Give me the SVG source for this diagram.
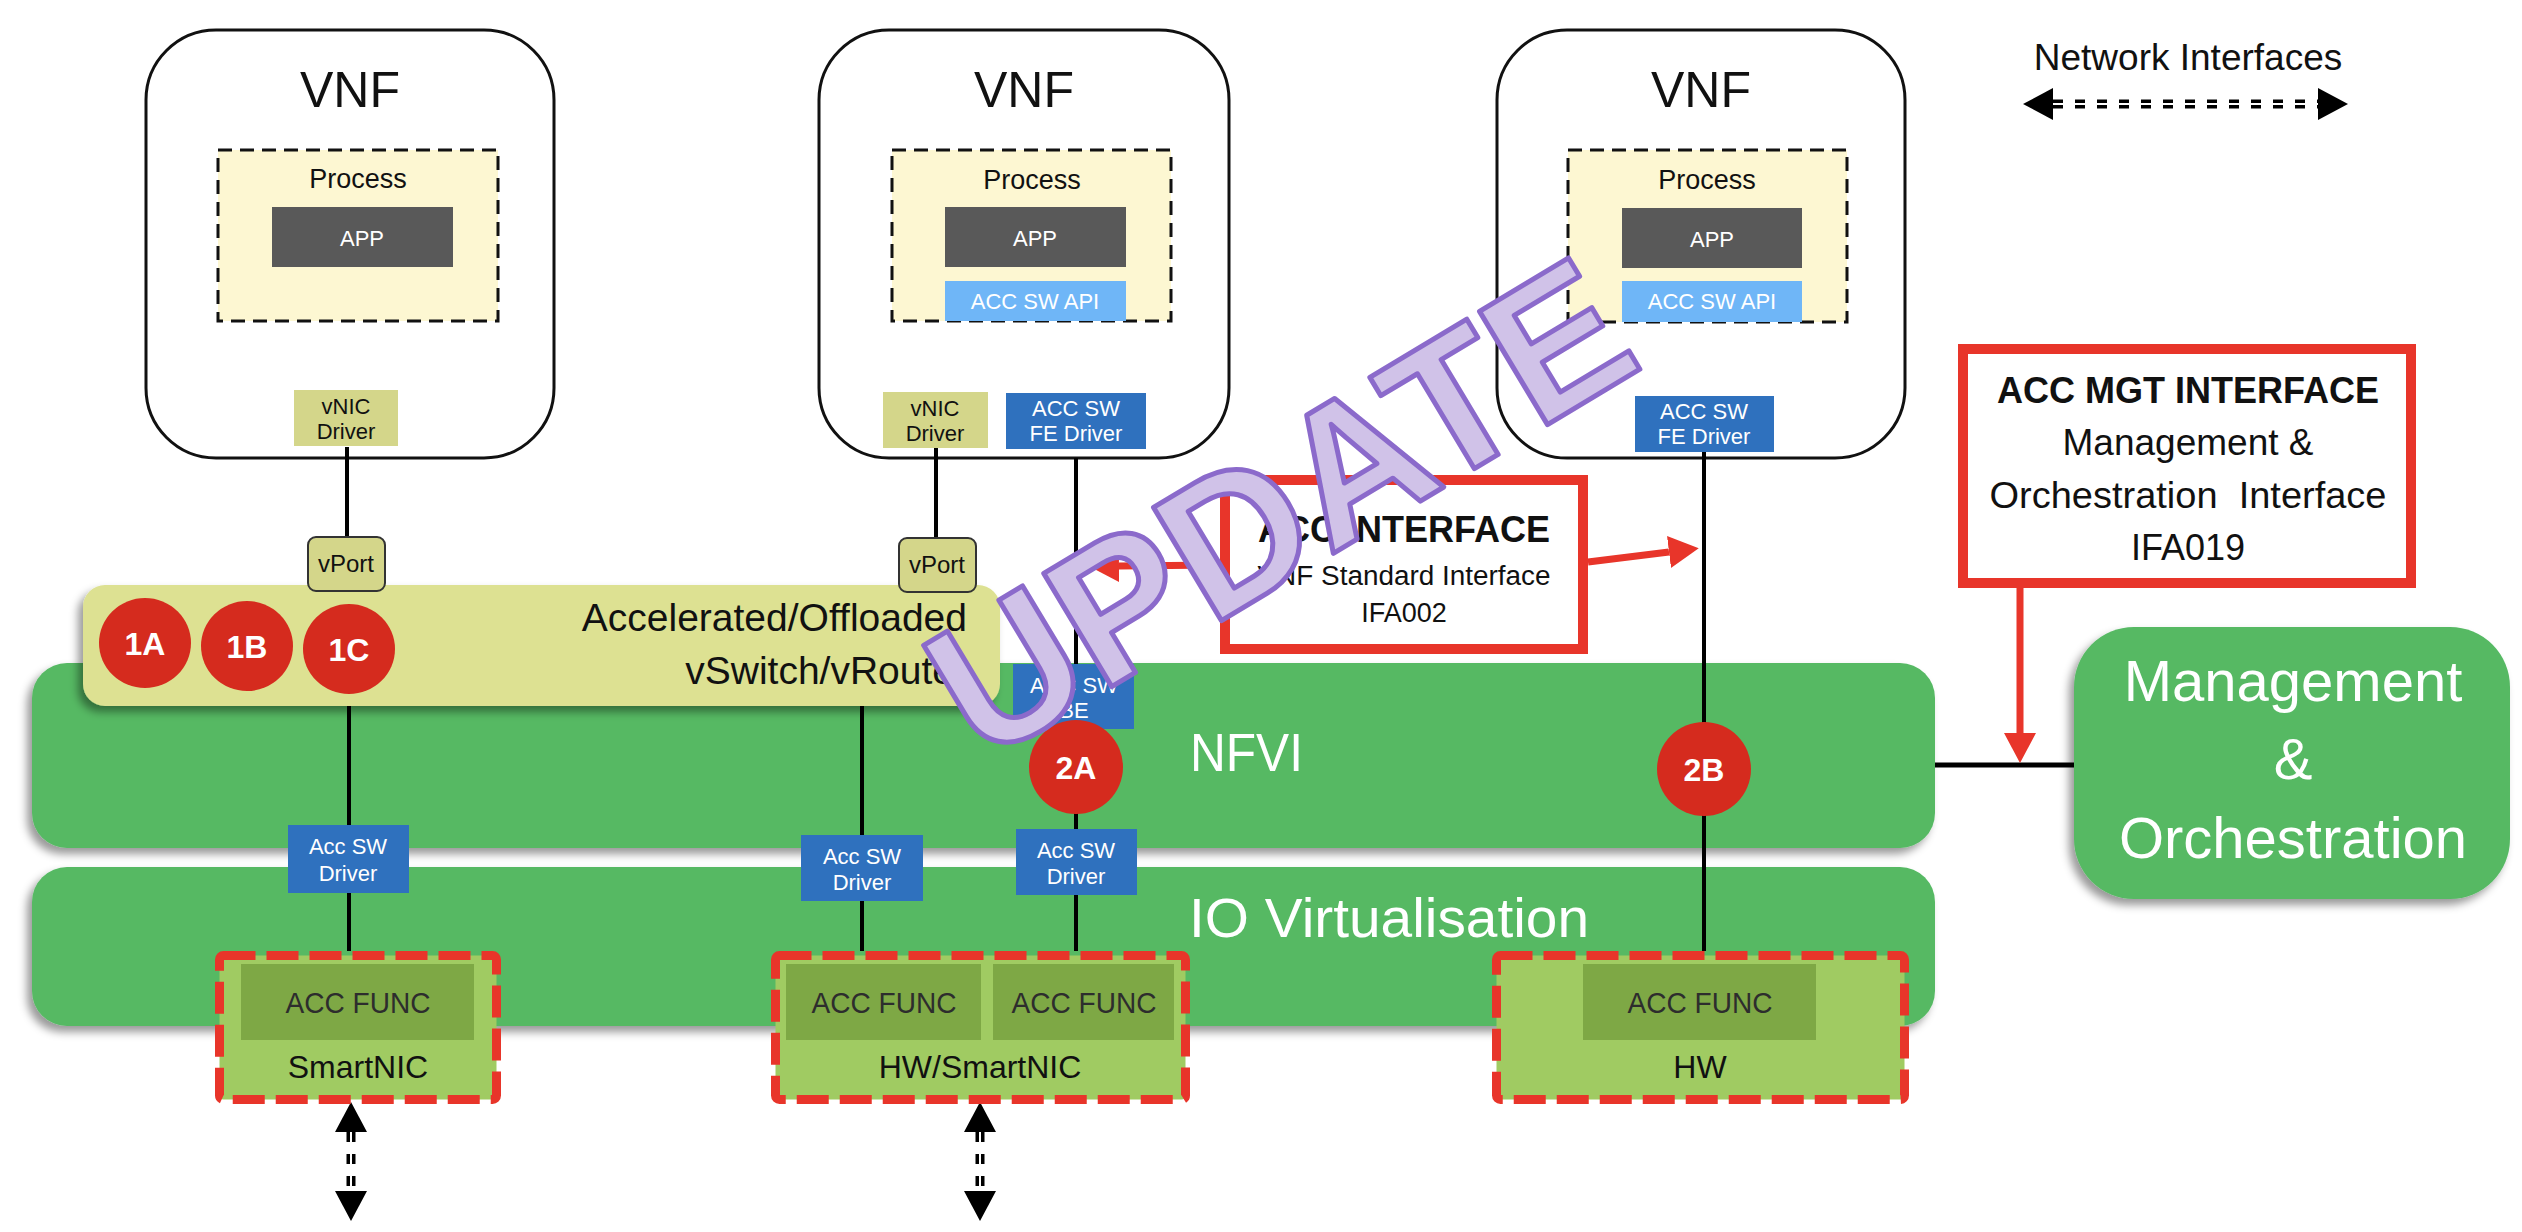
<svg xmlns="http://www.w3.org/2000/svg" width="2522" height="1232" viewBox="0 0 2522 1232">
<defs>
<style>
text{font-family:"Liberation Sans",Arial,sans-serif}
.c{text-anchor:middle}
.e{text-anchor:end}
.w{fill:#fff}
.k{fill:#111}
.vnf{fill:#fff;stroke:#111;stroke-width:3}
.proc{fill:#fdf7d2;stroke:#111;stroke-width:3;stroke-dasharray:14 8}
.app{fill:#595959}
.api{fill:#6fb6f7}
.blue{fill:#2f71be}
.olive{fill:#d4d68a}
.vport{fill:#d4d68a;stroke:#333;stroke-width:2}
.bar{fill:#56b964}
.ysw{fill:#dde192}
.dot{fill:#d52b1e}
.hw{fill:#a0cb62;stroke:#e8352a;stroke-width:9;stroke-dasharray:32 11}
.func{fill:#7ea845}
.ln{stroke:#000;stroke-width:4;fill:none}
.rl{stroke:#e8352a;stroke-width:7;fill:none}
.ibox{fill:#fff;stroke:#e8352a;stroke-width:10}
.net{stroke:#000;stroke-width:9;stroke-dasharray:10 12;fill:none}
.netc{stroke:#fff;stroke-width:2}
.s22{font-size:22px}
.s24{font-size:24px}
.num{font-size:32px;font-weight:bold;fill:#fff;text-anchor:middle}
.func-t{font-size:30px;fill:#2d2d2d;text-anchor:middle}
.hw-t{font-size:32px;fill:#111;text-anchor:middle}
.vnf-t{font-size:50px;fill:#111;text-anchor:middle}
.proc-t{font-size:27px;fill:#111;text-anchor:middle}
.big{font-size:58px;fill:#fff;text-anchor:middle}
</style>
<filter id="sh" x="-5%" y="-10%" width="110%" height="130%">
<feDropShadow dx="-5" dy="6" stdDeviation="4" flood-color="#000" flood-opacity="0.4"/>
</filter>
<marker id="rh" viewBox="0 0 30 32" refX="0" refY="16" markerWidth="30" markerHeight="32" markerUnits="userSpaceOnUse" orient="auto">
<path d="M0,0 L30,16 L0,32 z" fill="#e8352a"/>
</marker>
<marker id="bh" viewBox="0 0 30 32" refX="0" refY="16" markerWidth="30" markerHeight="32" markerUnits="userSpaceOnUse" orient="auto-start-reverse">
<path d="M0,0 L30,16 L0,32 z" fill="#000"/>
</marker>
</defs>

<rect width="2522" height="1232" fill="#fff"/>

<!-- Layers -->
<g id="nfvi">
<rect class="bar" x="32" y="663" width="1903" height="185" rx="35" filter="url(#sh)"/>
<text x="1190" y="771" font-size="54" class="w" textLength="113" lengthAdjust="spacingAndGlyphs">NFVI</text>
</g>
<g id="io-virtualisation">
<rect class="bar" x="32" y="867" width="1903" height="159" rx="35" filter="url(#sh)"/>
<text x="1189" y="937" font-size="56" class="w" textLength="400" lengthAdjust="spacingAndGlyphs">IO Virtualisation</text>
</g>
<g id="vswitch">
<rect class="ysw" x="83" y="585" width="917" height="121" rx="22" filter="url(#sh)"/>
<text x="967" y="631" font-size="39" class="e k">Accelerated/Offloaded</text>
<text x="967" y="684" font-size="39" class="e k">vSwitch/vRouter</text>
</g>
<g id="mano">
<rect class="bar" x="2074" y="627" width="436" height="272" rx="60" filter="url(#sh)"/>
<text x="2293" y="701" class="big">Management</text>
<text x="2293" y="779" class="big">&amp;</text>
<text x="2293" y="858" class="big">Orchestration</text>
</g>

<!-- VNFs -->
<g id="vnf1">
<rect class="vnf" x="146" y="30" width="408" height="428" rx="70"/>
<text x="350" y="107" class="vnf-t">VNF</text>
<rect class="proc" x="218" y="150" width="280" height="171"/>
<text x="358" y="188" class="proc-t">Process</text>
<rect class="app" x="272" y="207" width="181" height="60"/>
<text x="362" y="246" class="c w s22">APP</text>
</g>
<g id="vnf2">
<rect class="vnf" x="819" y="30" width="410" height="428" rx="70"/>
<text x="1024" y="107" class="vnf-t">VNF</text>
<rect class="proc" x="892" y="150" width="279" height="171"/>
<text x="1032" y="189" class="proc-t">Process</text>
<rect class="app" x="945" y="207" width="181" height="60"/>
<text x="1035" y="246" class="c w s22">APP</text>
<rect class="api" x="945" y="281" width="181" height="40"/>
<text x="1035" y="309" class="c w s22">ACC SW API</text>
</g>
<g id="vnf3">
<rect class="vnf" x="1497" y="30" width="408" height="428" rx="70"/>
<text x="1701" y="107" class="vnf-t">VNF</text>
<rect class="proc" x="1568" y="150" width="279" height="172"/>
<text x="1707" y="189" class="proc-t">Process</text>
<rect class="app" x="1622" y="208" width="180" height="60"/>
<text x="1712" y="247" class="c w s22">APP</text>
<rect class="api" x="1622" y="281" width="180" height="41"/>
<text x="1712" y="309" class="c w s22">ACC SW API</text>
</g>

<!-- Connectors -->
<g id="connectors">
<line class="ln" x1="347" y1="447" x2="347" y2="537"/>
<line class="ln" x1="936" y1="447" x2="936" y2="538"/>
<line class="ln" x1="1076" y1="458" x2="1076" y2="951"/>
<line class="ln" x1="1704" y1="452" x2="1704" y2="951"/>
<line class="ln" x1="349" y1="706" x2="349" y2="951"/>
<line class="ln" x1="862" y1="706" x2="862" y2="951"/>
<line x1="1935" y1="765" x2="2074" y2="765" stroke="#000" stroke-width="5"/>
<line class="rl" x1="1220" y1="565" x2="1119" y2="566" marker-end="url(#rh)"/>
<line class="rl" x1="1588" y1="562" x2="1669" y2="552" marker-end="url(#rh)"/>
<line class="rl" x1="2020" y1="588" x2="2020" y2="733" marker-end="url(#rh)"/>
<line class="net" x1="2053" y1="104" x2="2318" y2="104" marker-start="url(#bh)" marker-end="url(#bh)"/>
<line class="netc" x1="2053" y1="104" x2="2318" y2="104"/>
<line class="net" x1="351" y1="1132" x2="351" y2="1191" marker-start="url(#bh)" marker-end="url(#bh)"/>
<line class="netc" x1="351" y1="1132" x2="351" y2="1191"/>
<line class="net" x1="980" y1="1132" x2="980" y2="1191" marker-start="url(#bh)" marker-end="url(#bh)"/>
<line class="netc" x1="980" y1="1132" x2="980" y2="1191"/>
</g>

<!-- Drivers and ports -->
<g id="vnic1">
<rect class="olive" x="294" y="390" width="104" height="56"/>
<text x="346" y="414" class="c k s22">vNIC</text>
<text x="346" y="439" class="c k s22">Driver</text>
</g>
<g id="vnic2">
<rect class="olive" x="883" y="392" width="105" height="56"/>
<text x="935" y="416" class="c k s22">vNIC</text>
<text x="935" y="441" class="c k s22">Driver</text>
</g>
<g id="fe-driver2">
<rect class="blue" x="1006" y="393" width="140" height="56"/>
<text x="1076" y="416" class="c w s22">ACC SW</text>
<text x="1076" y="441" class="c w s22">FE Driver</text>
</g>
<g id="fe-driver3">
<rect class="blue" x="1635" y="396" width="139" height="56"/>
<text x="1704" y="419" class="c w s22">ACC SW</text>
<text x="1704" y="444" class="c w s22">FE Driver</text>
</g>
<g id="vport1">
<rect class="vport" x="308" y="537" width="77" height="54" rx="8"/>
<text x="346" y="572" class="c k s24">vPort</text>
</g>
<g id="vport2">
<rect class="vport" x="899" y="538" width="77" height="54" rx="8"/>
<text x="937" y="573" class="c k s24">vPort</text>
</g>
<g id="be-driver">
<rect class="blue" x="1013" y="664" width="121" height="65"/>
<text x="1074" y="693" class="c w s22">ACC SW</text>
<text x="1074" y="718" class="c w s22">BE</text>
</g>
<g id="acc-driver1">
<rect class="blue" x="288" y="825" width="121" height="68"/>
<text x="348" y="854" class="c w s22">Acc SW</text>
<text x="348" y="881" class="c w s22">Driver</text>
</g>
<g id="acc-driver2">
<rect class="blue" x="801" y="835" width="122" height="66"/>
<text x="862" y="864" class="c w s22">Acc SW</text>
<text x="862" y="890" class="c w s22">Driver</text>
</g>
<g id="acc-driver3">
<rect class="blue" x="1016" y="829" width="121" height="66"/>
<text x="1076" y="858" class="c w s22">Acc SW</text>
<text x="1076" y="884" class="c w s22">Driver</text>
</g>

<!-- Numbered markers -->
<g id="m1a"><ellipse class="dot" cx="145" cy="643" rx="46" ry="45"/><text x="145" y="655" class="num">1A</text></g>
<g id="m1b"><ellipse class="dot" cx="247" cy="646" rx="46" ry="45"/><text x="247" y="658" class="num">1B</text></g>
<g id="m1c"><ellipse class="dot" cx="349" cy="649" rx="46" ry="45"/><text x="349" y="661" class="num">1C</text></g>
<g id="m2a"><ellipse class="dot" cx="1076" cy="767" rx="47" ry="47"/><text x="1076" y="779" class="num">2A</text></g>
<g id="m2b"><ellipse class="dot" cx="1704" cy="769" rx="47" ry="47"/><text x="1704" y="781" class="num">2B</text></g>

<!-- Hardware -->
<g id="smartnic">
<rect class="hw" x="219.5" y="955.5" width="277" height="144" rx="4"/>
<rect class="func" x="241" y="964" width="233" height="76"/>
<text x="358" y="1013" class="func-t" textLength="145" lengthAdjust="spacingAndGlyphs">ACC FUNC</text>
<text x="358" y="1078" class="hw-t">SmartNIC</text>
</g>
<g id="hw-smartnic">
<rect class="hw" x="775.5" y="955.5" width="410" height="144" rx="4"/>
<rect class="func" x="786" y="964" width="195" height="76"/>
<text x="884" y="1013" class="func-t" textLength="145" lengthAdjust="spacingAndGlyphs">ACC FUNC</text>
<rect class="func" x="993" y="964" width="181" height="76"/>
<text x="1084" y="1013" class="func-t" textLength="145" lengthAdjust="spacingAndGlyphs">ACC FUNC</text>
<text x="980" y="1078" class="hw-t">HW/SmartNIC</text>
</g>
<g id="hw">
<rect class="hw" x="1496.5" y="955.5" width="408" height="144" rx="4"/>
<rect class="func" x="1583" y="964" width="233" height="76"/>
<text x="1700" y="1013" class="func-t" textLength="145" lengthAdjust="spacingAndGlyphs">ACC FUNC</text>
<text x="1700" y="1078" class="hw-t">HW</text>
</g>

<!-- Interface boxes -->
<g id="acc-interface">
<rect class="ibox" x="1225" y="480" width="358" height="169"/>
<text x="1404" y="542" class="c k" font-size="36" font-weight="bold">ACC INTERFACE</text>
<text x="1404" y="585" class="c k" font-size="27" textLength="293" lengthAdjust="spacingAndGlyphs">VNF Standard Interface</text>
<text x="1404" y="622" class="c k" font-size="27">IFA002</text>
</g>
<g id="acc-mgt-interface">
<rect class="ibox" x="1963" y="349" width="448" height="234"/>
<text x="2188" y="403" class="c k" font-size="36" font-weight="bold">ACC MGT INTERFACE</text>
<text x="2188" y="455" class="c k" font-size="37">Management &amp;</text>
<text x="2188" y="508" class="c k" font-size="37" textLength="397" lengthAdjust="spacingAndGlyphs" xml:space="preserve">Orchestration  Interface</text>
<text x="2188" y="560" class="c k" font-size="36">IFA019</text>
</g>

<g id="legend">
<text x="2188" y="70" class="c k" font-size="37">Network Interfaces</text>
</g>

<!-- Stamp -->
<g id="stamp">
<text transform="translate(1314,565) rotate(-31)" x="0" y="0" text-anchor="middle" font-size="192" font-weight="bold" fill="#d0c2e8" stroke="#8b6acb" stroke-width="5" stroke-linejoin="round">UPDATE</text>
</g>
</svg>
